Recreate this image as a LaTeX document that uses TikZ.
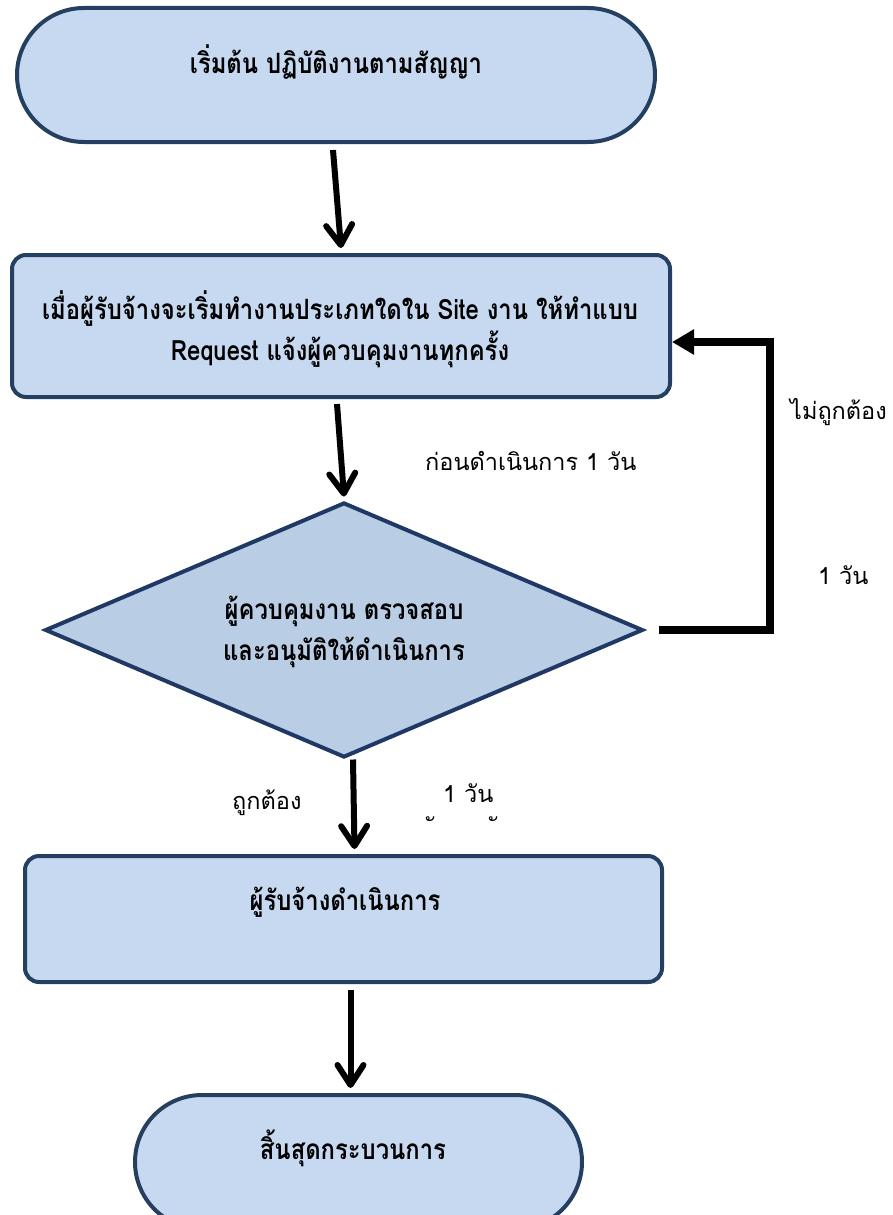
\documentclass[tikz,border=0pt]{standalone}
\usepackage{fontspec}
\usetikzlibrary{arrows.meta,shapes.geometric,calc}
\newfontfamily\thbox[Script=Thai,FakeStretch=0.85]{Loma}
\newfontfamily\thlabel[Script=Thai]{Loma}
\definecolor{termfill}{HTML}{C6D9F1}
\definecolor{decfill}{HTML}{B9CDE5}
\definecolor{edge}{HTML}{243F60}
\definecolor{decedge}{HTML}{1F3864}
\tikzset{
  terminal/.style={draw=edge,fill=termfill,line width=4pt,rectangle,rounded corners=67pt,
    minimum height=134pt,inner sep=0pt},
  procbox/.style={draw=edge,fill=termfill,line width=4pt,rectangle,rounded corners=14pt,
    inner sep=0pt,align=center},
  decision/.style={draw=decedge,fill=decfill,line width=4pt,diamond,inner sep=0pt,
    minimum width=598pt,minimum height=255pt},
  boxtext/.style={font=\thbox\fontsize{28pt}{41pt}\selectfont\bfseries,align=center,inner sep=0pt},
  lbl/.style={font=\thlabel\fontsize{23.5pt}{26pt}\selectfont,inner sep=0pt,anchor=west},
  flow/.style={line width=6pt,-{Straight Barb[length=20pt,width=26pt,line cap=round,line join=round]}},
  back/.style={line width=8pt,-{Triangle[length=22pt,width=24pt]}}
}
\begin{document}
\begin{tikzpicture}[x=1pt,y=-1pt]
\useasboundingbox (0,0) rectangle (892,1215);
\clip (0,0) rectangle (892,1215);
% shapes
\node[terminal,minimum width=638pt] (start) at (336,75) {};
\node[boxtext] (starttxt) at (336,62) {เริ่มต้น ปฏิบัติงานตามสัญญา};

\node[procbox,minimum width=658pt,minimum height=142pt] (req) at (341,326) {};
\node[boxtext] (reqtxt) at (340,329) {เมื่อผู้รับจ้างจะเริ่มทำงานประเภทใดใน Site งาน ให้ทำแบบ\\Request แจ้งผู้ควบคุมงานทุกครั้ง};

\node[decision] (check) at (344,630) {};
\node[boxtext] (checktxt) at (344,632) {ผู้ควบคุมงาน ตรวจสอบ\\และอนุมัติให้ดำเนินการ};

\node[procbox,minimum width=637pt,minimum height=126pt] (work) at (343.5,919) {};
\node[boxtext] (worktxt) at (345,902) {ผู้รับจ้างดำเนินการ};

\node[terminal,minimum width=447pt] (finish) at (358.5,1162) {};
\node[boxtext] (finishtxt) at (353,1148) {สิ้นสุดกระบวนการ};

% connectors
\draw[flow] ([xshift=-3pt,yshift=-6pt]start.south) -- ([yshift=5pt]req.north);
\draw[flow] ([xshift=-4pt,yshift=-5pt]req.south) -- ([yshift=4pt]check.north);
\draw[flow] ([xshift=9pt]check.south) -- ([xshift=11pt,yshift=5pt]work.north);
\draw[flow] ([xshift=7pt,yshift=-6pt]work.south) -- ([xshift=-8pt,yshift=5pt]finish.north);
\draw[back] ([xshift=14pt]check.east) -| ([xshift=98pt,yshift=-16pt]req.east) -- ([yshift=-16pt]req.east);

% labels
\node[lbl] (before) at (425,461) {ก่อนดำเนินการ 1 วัน};
\node[lbl] (wrong) at (790,412) {ไม่ถูกต้อง};
\node[lbl] (daya) at (818,575) {1 วัน};
\node[lbl] (right) at (232,803) {ถูกต้อง};
\node[lbl] (dayb) at (443,793) {1 วัน};
\node[lbl] (marka) at (434,826) {ั};
\node[lbl] (markb) at (497,826) {ั};
\end{tikzpicture}
\end{document}
